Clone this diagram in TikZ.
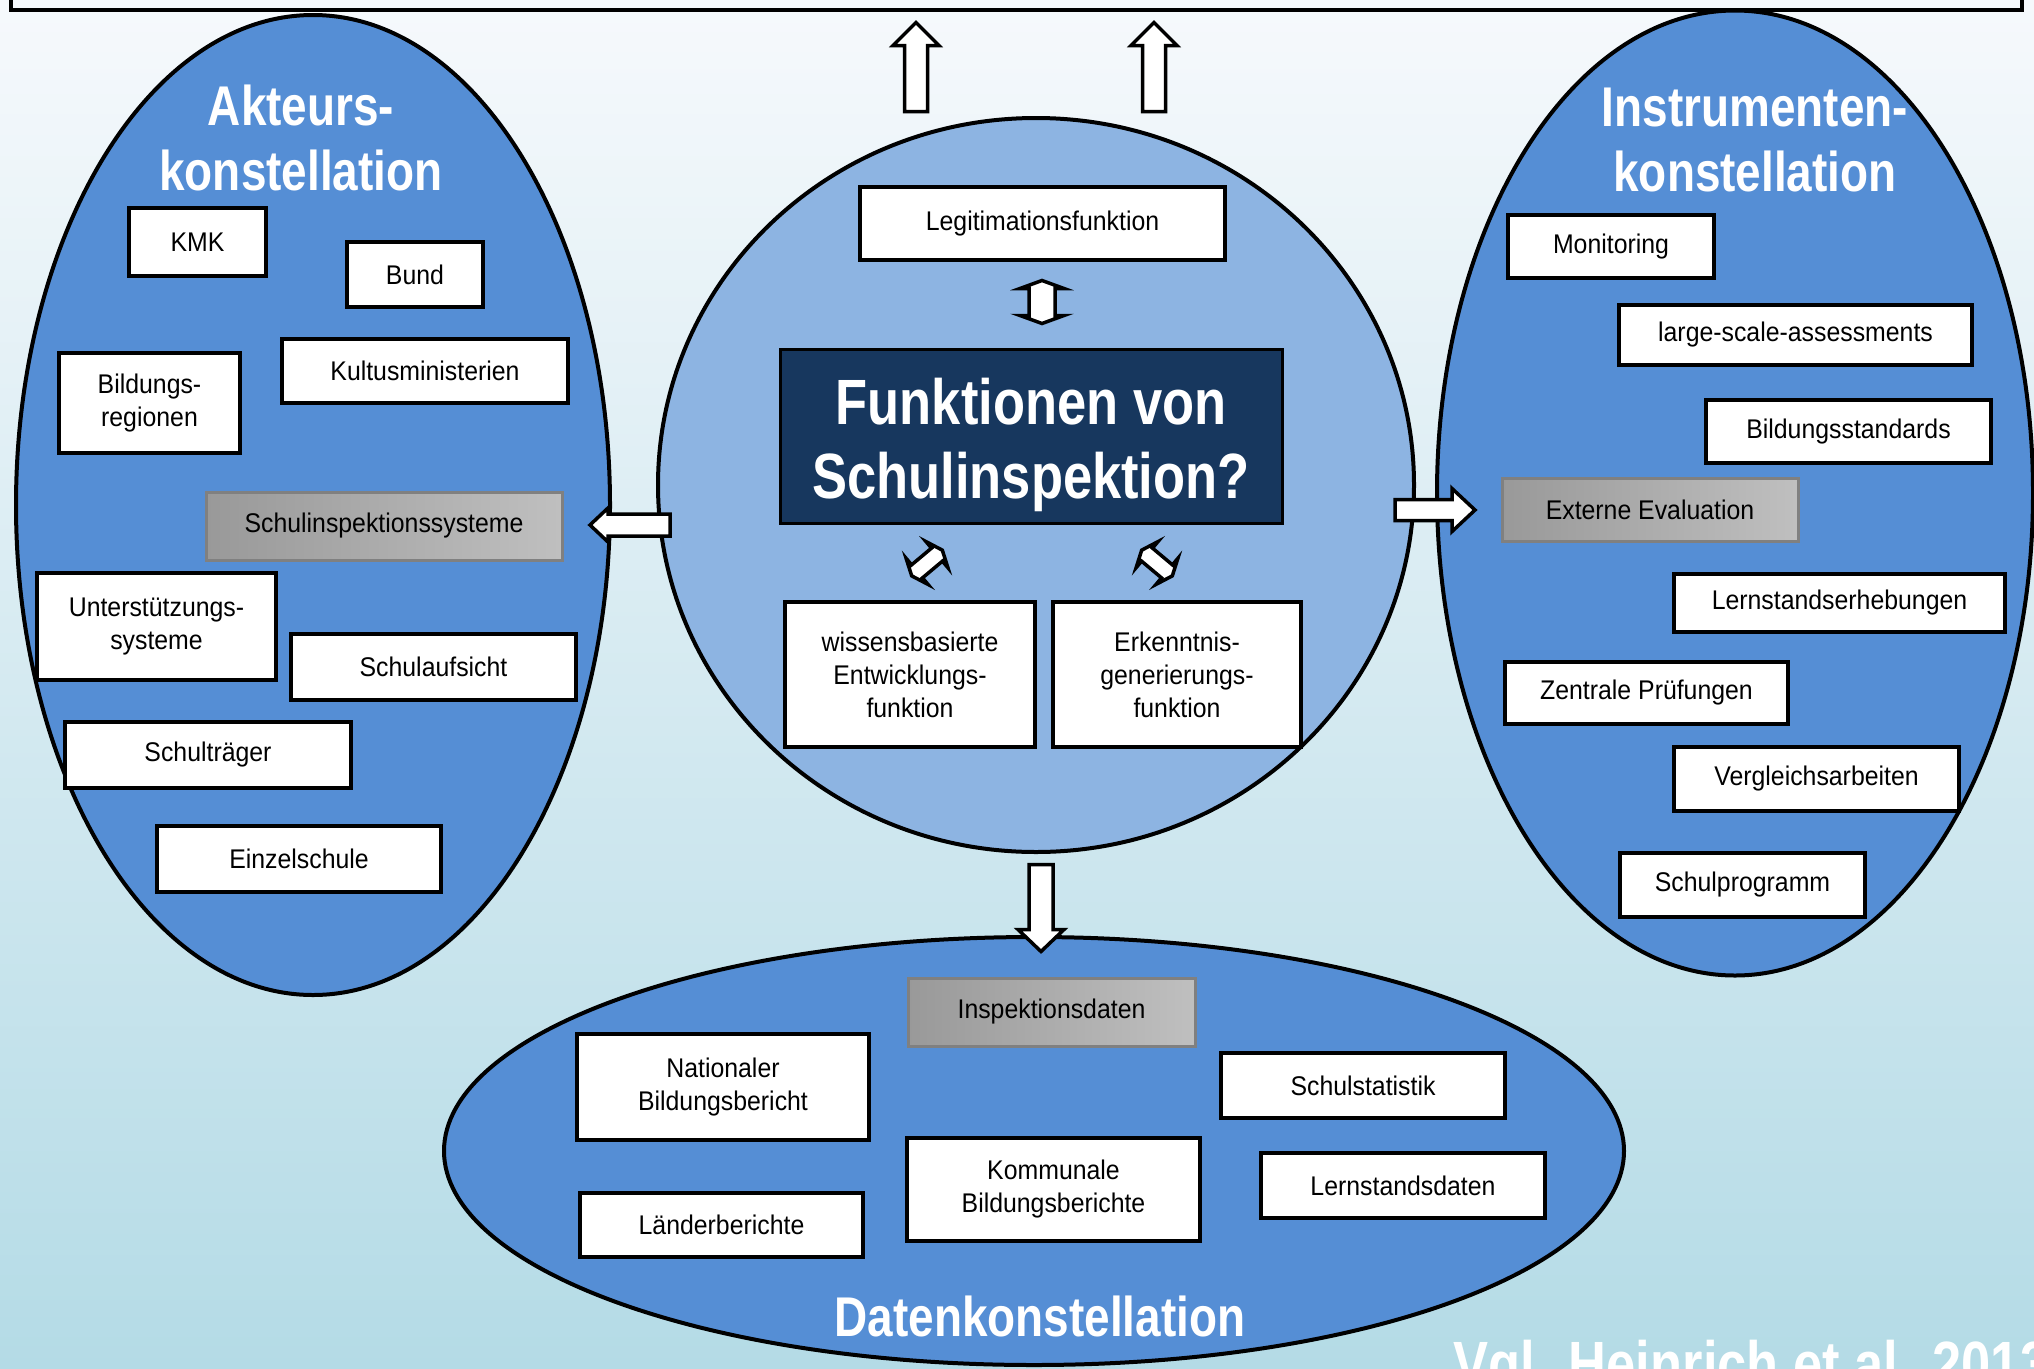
\documentclass[tikz,border=0pt]{standalone}
\usepackage{fontspec}
\setmainfont{Liberation Sans}
\newfontfamily\boxfont[FakeStretch=0.92]{Liberation Sans}
\newfontfamily\headfont[FakeStretch=0.82]{Liberation Sans Bold}
\usetikzlibrary{fit,shapes.geometric}

\definecolor{bgTop}{RGB}{246,249,252}
\definecolor{bgBot}{RGB}{180,219,230}
\definecolor{zoneBlue}{RGB}{85,142,213}
\definecolor{coreBlue}{RGB}{141,180,226}
\definecolor{navy}{RGB}{23,55,94}

\tikzset{
  zone/.style={ellipse, draw=black, line width=4pt, fill=zoneBlue, inner sep=0pt},
  wbox/.style={draw=black, line width=4pt, fill=white, inner sep=0pt, align=center,
    font=\boxfont\fontsize{27}{33}\selectfont},
  gbox/.style={draw=black!50, line width=3pt, inner sep=0pt, align=center,
    left color=black!40, middle color=black!5, right color=black!25,
    font=\boxfont\fontsize{27}{33}\selectfont},
  qbox/.style={draw=black, line width=3pt, fill=navy, inner sep=0pt},
  qtext/.style={text=white, align=center, inner sep=0pt,
    font=\headfont\fontsize{64}{74}\selectfont},
  ttl/.style={text=white, align=center, inner sep=0pt,
    font=\headfont\fontsize{56}{65}\selectfont},
  arrowline/.style={draw=black, line width=3.5pt, fill=white, line join=miter},
  % block arrow: length / shaft width / head width / head length / direction
  pics/onearrow/.style args={#1/#2/#3/#4/#5}{code={
    \path[arrowline, rotate=#5]
      ({-#1/2},{#2/2}) -- ({#1/2-#4},{#2/2}) -- ({#1/2-#4},{#3/2}) -- ({#1/2},0)
      -- ({#1/2-#4},{-#3/2}) -- ({#1/2-#4},{-#2/2}) -- ({-#1/2},{-#2/2}) -- cycle;
  }},
  % double-headed block arrow, same arguments
  pics/twoarrow/.style args={#1/#2/#3/#4/#5}{code={
    \path[arrowline, rotate=#5]
      ({-#1/2},0) -- ({-#1/2+#4},{#3/2}) -- ({-#1/2+#4},{#2/2}) -- ({#1/2-#4},{#2/2})
      -- ({#1/2-#4},{#3/2}) -- ({#1/2},0) -- ({#1/2-#4},{-#3/2}) -- ({#1/2-#4},{-#2/2})
      -- ({-#1/2+#4},{-#2/2}) -- ({-#1/2+#4},{-#3/2}) -- cycle;
  }},
}

% a box node spanning the corners (x1,y1) and (x2,y2)
% #1 style, #2 name, #3 x1, #4 y1, #5 x2, #6 y2, #7 text
\newcommand\boxat[7]{%
  \pgfmathsetmacro\boxw{#5-#3}\pgfmathsetmacro\boxh{#6-#4}%
  \node[#1, minimum width=\boxw pt, minimum height=\boxh pt] (#2)
    at ({(#3+#5)/2},{(#4+#6)/2}) {#7};}

\begin{document}
\begin{tikzpicture}[x=1pt,y=-1pt]
\clip (0,0) rectangle (2034,1368);
\shade[top color=bgTop, bottom color=bgBot] (0,0) rectangle (2034,1368);

% frame of the heading above
\node[draw=black, line width=4pt, inner sep=0pt, fit={(11,-80) (2022,10)}] (heading) {};

% the three constellations and the central circle
\node[zone, minimum width=594pt, minimum height=980pt] (akteure) at (313,505) {};
\node[zone, minimum width=596pt, minimum height=965pt] (instrumente) at (1735,493) {};
\node[zone, minimum width=1180pt, minimum height=428pt] (daten) at (1034,1151) {};
\node[zone, fill=coreBlue, minimum width=756pt, minimum height=734pt] (funktionen) at (1036,485) {};

% titles
\node[ttl] (tAkteure) at (301,138) {Akteurs-\\konstellation};
\node[ttl] (tInstr) at (1755,140) {Instrumenten-\\konstellation};
\node[ttl, anchor=base] (tDaten) at (1040,1336) {Datenkonstellation};

% actors
\boxat{wbox}{kmk}{129}{208}{266}{276}{KMK}
\boxat{wbox}{bund}{347}{242}{483}{307}{Bund}
\boxat{wbox}{bildreg}{59}{353}{240}{453}{Bildungs-\\regionen}
\boxat{wbox}{kultus}{282}{339}{568}{403}{Kultusministerien}
\boxat{gbox}{sis}{206}{492}{562}{560}{Schulinspektionssysteme}
\boxat{wbox}{unterst}{37}{573}{276}{680}{Unterstützungs-\\systeme}
\boxat{wbox}{aufsicht}{291}{634}{576}{700}{Schulaufsicht}
\boxat{wbox}{traeger}{65}{722}{351}{788}{Schulträger}
\boxat{wbox}{einzel}{157}{826}{441}{892}{Einzelschule}

% instruments
\boxat{wbox}{monitoring}{1508}{215}{1714}{278}{Monitoring}
\boxat{wbox}{lsa}{1619}{305}{1972}{365}{large-scale-assessments}
\boxat{wbox}{standards}{1706}{400}{1991}{463}{Bildungsstandards}
\boxat{gbox}{exteval}{1502}{478}{1798}{541}{Externe Evaluation}
\boxat{wbox}{lse}{1674}{574}{2005}{632}{Lernstandserhebungen}
\boxat{wbox}{zp}{1505}{662}{1788}{724}{Zentrale Prüfungen}
\boxat{wbox}{vera}{1674}{747}{1959}{811}{Vergleichsarbeiten}
\boxat{wbox}{schulprog}{1620}{853}{1865}{917}{Schulprogramm}

% functions
\boxat{wbox}{legit}{860}{187}{1225}{260}{Legitimationsfunktion}
\boxat{qbox}{frage}{780}{349}{1282}{523}{}
\node[qtext] (frageText) at (1031,445) {Funktionen von\\Schulinspektion?};
\boxat{wbox}{wissen}{785}{602}{1035}{747}{wissensbasierte\\Entwicklungs-\\funktion}
\boxat{wbox}{erkennt}{1053}{602}{1301}{747}{Erkenntnis-\\generierungs-\\funktion}

% data
\boxat{gbox}{inspdaten}{908}{978}{1195}{1046}{Inspektionsdaten}
\boxat{wbox}{nbb}{577}{1034}{869}{1140}{Nationaler\\Bildungsbericht}
\boxat{wbox}{statistik}{1221}{1053}{1505}{1118}{Schulstatistik}
\boxat{wbox}{kbb}{907}{1138}{1200}{1241}{Kommunale\\Bildungsberichte}
\boxat{wbox}{lsd}{1261}{1153}{1545}{1218}{Lernstandsdaten}
\boxat{wbox}{laender}{580}{1193}{863}{1257}{Länderberichte}

% block arrows
\pic (upA) at (916,67) {onearrow={89/23/46/23/90}};
\pic (upB) at (1154,67) {onearrow={89/23/46/23/90}};
\pic (toAkteure) at (630,525) {onearrow={80/22/34/18/180}};
\pic (toInstr) at (1435,510) {onearrow={80/21/43/23/0}};
\pic (toDaten) at (1041,908) {onearrow={87/24/46/22/-90}};
\pic (legitFrage) at (1042,302) {twoarrow={43/26/44/8/90}};
\pic (frageWissen) at (927,563) {twoarrow={40/17/34/7/40}};
\pic (frageErkennt) at (1157,563) {twoarrow={40/17/34/7/-40}};

% source
\node[text=white, inner sep=0pt, anchor=base west, font=\headfont\fontsize{64}{70}\selectfont]
  (quelle) at (1453,1386) {Vgl. Heinrich et al. 2013};
\end{tikzpicture}
\end{document}
